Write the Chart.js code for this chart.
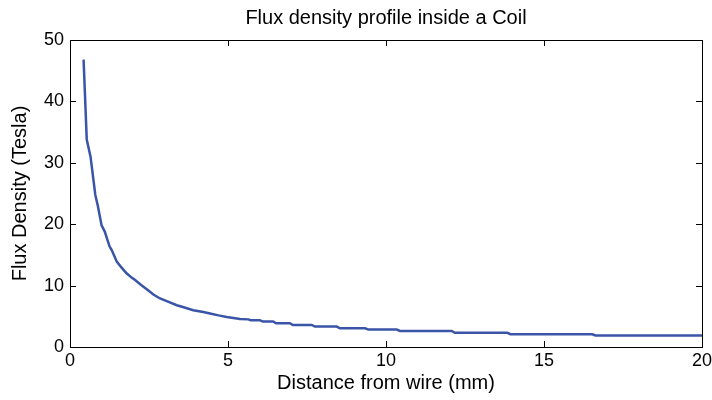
<!DOCTYPE html>
<html>
<head>
<meta charset="utf-8">
<script src="https://cdn.jsdelivr.net/npm/chart.js@4"></script>
<style>
  body { margin: 0; background: #fff; }
  #fluxChart { display: block; }
</style>
</head>
<body>
<canvas id="fluxChart" width="712" height="400"></canvas>
<script>
// distance from wire (mm) and flux density (Tesla)
var distance = [0.43, 0.53, 0.65, 0.80, 0.88, 1.00, 1.10, 1.25, 1.32, 1.48, 1.62, 1.79, 1.95, 2.06, 2.25, 2.43,
    2.65, 2.85, 3.10, 3.38, 3.65, 3.90, 4.22, 4.43, 4.70, 4.96, 5.38, 5.64, 5.72, 6.01, 6.10, 6.43, 6.52,
    6.96, 7.05, 7.65, 7.75, 8.44, 8.54, 9.34, 9.44, 10.34, 10.44, 12.08, 12.18, 13.84, 13.94, 16.53, 16.63, 20];
var flux = [46.8, 33.8, 31.0, 24.8, 23.0, 19.8, 18.8, 16.4, 15.8, 13.9, 13.0, 12.0, 11.3, 10.9, 10.1, 9.4,
    8.5, 7.9, 7.4, 6.8, 6.4, 6.0, 5.7, 5.45, 5.15, 4.9, 4.55, 4.5, 4.36, 4.36, 4.15, 4.15, 3.87,
    3.87, 3.59, 3.59, 3.33, 3.33, 3.05, 3.05, 2.84, 2.84, 2.61, 2.61, 2.32, 2.32, 2.08, 2.08, 1.87, 1.87];
var xTicks = [0, 5, 10, 15, 20];
var yTicks = [0, 10, 20, 30, 40, 50];
var titleText = 'Flux density profile inside a Coil';

var points = distance.map(function (d, i) {
    return { x: d, y: flux[i] };
});

var family = 'Liberation Sans, Arial, sans-serif';
var tickFont = { family: family, size: 18 };
var labelFont = { family: family, size: 20, lineHeight: 1.2 };

// matlab style box with inward ticks on all four sides, title centred on the axes
var boxTicks = {
    id: 'boxTicks',
    afterDraw: function (chart) {
        var ctx = chart.ctx;
        var a = chart.chartArea;
        var xs = chart.scales.x;
        var ys = chart.scales.y;
        var len = 6;
        ctx.save();
        ctx.strokeStyle = '#000';
        ctx.lineWidth = 1;
        ctx.strokeRect(a.left + 0.5, a.top + 0.5, a.right - a.left, a.bottom - a.top);
        ctx.beginPath();
        xTicks.forEach(function (v) {
            var px = Math.round(xs.getPixelForValue(v)) + 0.5;
            ctx.moveTo(px, a.bottom);
            ctx.lineTo(px, a.bottom - len);
            ctx.moveTo(px, a.top);
            ctx.lineTo(px, a.top + len);
        });
        yTicks.forEach(function (v) {
            var py = Math.round(ys.getPixelForValue(v)) + 0.5;
            ctx.moveTo(a.left, py);
            ctx.lineTo(a.left + len, py);
            ctx.moveTo(a.right, py);
            ctx.lineTo(a.right - len, py);
        });
        ctx.stroke();

        ctx.fillStyle = '#000';
        ctx.font = '20px ' + family;
        ctx.textAlign = 'center';
        ctx.textBaseline = 'middle';
        ctx.fillText(titleText, (a.left + a.right) / 2, 18);
        ctx.restore();
    }
};

var config = {
    type: 'line',
    data: {
        datasets: [{
            data: points,
            borderColor: '#3a54a8',
            borderWidth: 2.5,
            pointRadius: 0,
            tension: 0,
            fill: false
        }]
    },
    options: {
        responsive: false,
        animation: false,
        devicePixelRatio: 1,
        layout: { padding: { left: 0, right: 0, top: 40, bottom: 0 } },
        plugins: {
            legend: { display: false },
            tooltip: { enabled: false }
        },
        scales: {
            x: {
                type: 'linear',
                min: 0,
                max: 20,
                afterBuildTicks: function (s) {
                    s.ticks = xTicks.map(function (v) { return { value: v }; });
                },
                afterFit: function (s) {
                    s.height = 53;
                    s.paddingRight = 10;
                },
                ticks: { color: '#000', font: tickFont, padding: 3, maxRotation: 0 },
                grid: { display: false, drawTicks: false },
                border: { display: false },
                title: { display: true, text: 'Distance from wire (mm)', color: '#000', font: labelFont, padding: { top: 0, bottom: 5 } }
            },
            y: {
                min: 0,
                max: 50,
                afterBuildTicks: function (s) {
                    s.ticks = yTicks.map(function (v) { return { value: v }; });
                },
                afterFit: function (s) { s.width = 70; },
                ticks: { color: '#000', font: tickFont, padding: 6 },
                grid: { display: false, drawTicks: false },
                border: { display: false },
                title: { display: true, text: 'Flux Density (Tesla)', color: '#000', font: labelFont, padding: { top: 8, bottom: 0 } }
            }
        }
    },
    plugins: [boxTicks]
};

var fluxChart = new Chart(document.getElementById('fluxChart'), config);
</script>
</body>
</html>
